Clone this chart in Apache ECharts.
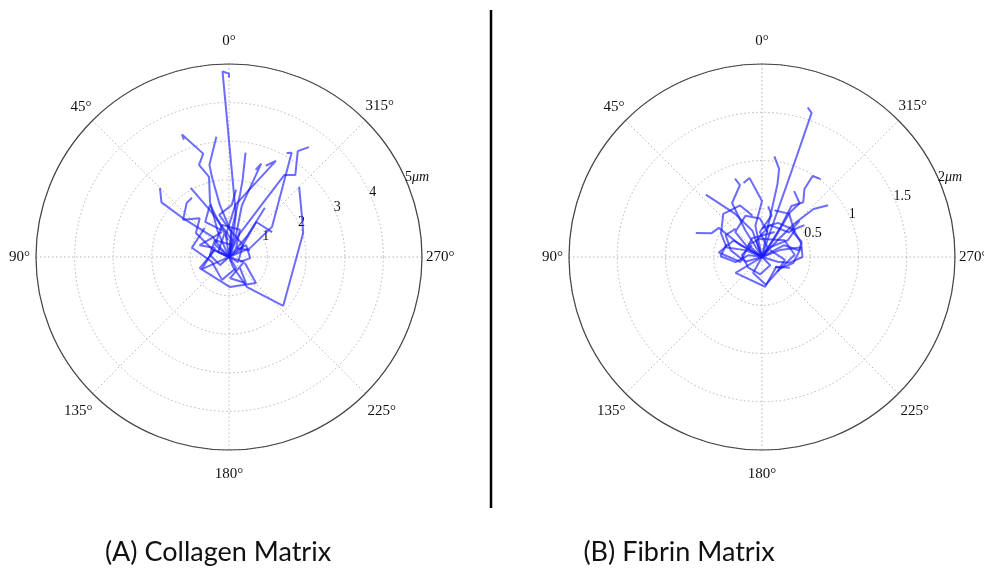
<!DOCTYPE html>
<html>
<head>
<meta charset="utf-8">
<script src="https://cdn.jsdelivr.net/npm/echarts@6/dist/echarts.min.js"></script>
<style>
html,body{margin:0;padding:0;background:#fff;}
#chart{width:984px;height:568px;}
</style>
</head>
<body>
<div id="chart"></div>
<script>
// ---- data: each track is a list of [radius (μm), angle (deg)] ----
const angleTicks = [0, 45, 90, 135, 180, 225, 270, 315];
const collagenRings = [1, 2, 3, 4, 5];
const fibrinRings = [0.5, 1, 1.5, 2];
const radiusUnit = 'μm';
const panelCaptions = ['(A) Collagen Matrix', '(B) Fibrin Matrix'];

const collagenTracks = [
  [[0,0],[0.45,347],[1.13,351],[4.81,2],[4.75,0],[4.65,0]],
  [[0,0],[0.28,202],[0.91,211],[1.89,228],[2.02,288],[2.13,297],[2.57,315]],
  [[0,0],[0.59,293],[1.36,305],[3.15,329],[3.08,331]],
  [[0,0],[0.59,337],[1.60,328],[2.56,326],[2.73,321],[3.27,327],[3.52,324]],
  [[0,0],[0.71,24],[1.51,19],[2.14,14],[2.51,18],[2.76,14],[3.40,21],[3.26,21]],
  [[0,0],[0.65,355],[1.37,10],[2.10,12],[2.44,12],[3.13,6]],
  [[0,0],[0.31,42],[0.67,39],[1.60,50],[2.25,51],[2.53,45]],
  [[0,0],[0.45,66],[1.06,54],[1.26,37],[1.53,51],[1.78,38],[1.81,32]],
  [[0,0],[0.45,350],[1.23,21],[2.05,29]],
  [[0,0],[0.58,8],[1.36,353],[2.77,334],[2.55,338]],
  [[0,0],[0.57,342],[1.37,346],[2.56,341],[2.36,343]],
  [[0,0],[0.71,354],[1.64,350],[2.03,350],[2.74,351]],
  [[0,0],[0.72,319],[1.58,324]],
  [[0,0],[0.34,303],[1.15,322],[1.29,300]],
  [[0,0],[0.41,63],[0.81,111],[0.78,182],[0.97,226],[0.44,249]],
  [[0,0],[0.34,213],[0.62,163],[0.46,106],[0.99,76],[0.98,40]],
  [[0,0],[0.41,252],[0.55,183],[0.81,213],[0.40,225]],
  [[0,0],[0.31,66],[0.66,9],[1.10,34],[1.44,20],[0.44,3]],
  [[0,0],[0.28,311],[0.54,305],[0.55,267],[0.31,246]],
  [[0,0],[0.31,132],[0.50,84],[0.57,40],[0.32,346]],
  [[0,0],[0.48,49],[0.85,12],[0.76,338],[0.30,322],[0.57,288]],
  [[0,0],[0.27,241],[0.48,311],[0.70,358],[1.12,13],[1.35,357],[1.75,354]],
  [[0,0],[0.31,114],[0.77,114],[0.43,57],[0.82,68],[0.67,16]]
];

const fibrinTracks = [
  [[0,0],[0.27,342],[0.88,341],[1.58,341],[1.62,343]],
  [[0,0],[0.33,349],[0.77,348],[0.93,349],[1.05,353]],
  [[0,0],[0.35,328],[0.61,330],[0.71,323],[0.83,328],[0.99,328],[1.01,323]],
  [[0,0],[0.27,317],[0.48,316],[0.73,313],[0.87,308]],
  [[0,0],[0.29,20],[0.53,32],[0.87,42]],
  [[0,0],[0.26,61],[0.54,56],[0.58,65],[0.73,70]],
  [[0,0],[0.33,32],[0.64,29],[0.78,17],[0.86,19]],
  [[0,0],[0.33,12],[0.58,0],[0.83,9],[0.79,14]],
  [[0,0],[0.26,298],[0.39,280],[0.44,291],[0.41,312],[0.55,307]],
  [[0,0],[0.32,121],[0.31,186],[0.18,236],[0.31,249]],
  [[0,0],[0.20,291],[0.42,284],[0.33,259],[0.23,241],[0.17,232]],
  [[0,0],[0.18,106],[0.33,78],[0.44,59],[0.40,43]],
  [[0,0],[0.14,82],[0.28,101],[0.43,89],[0.39,70]],
  [[0,0],[0.23,326],[0.54,328],[0.68,325],[0.76,334]],
  [[0,0],[0.18,19],[0.34,346],[0.38,312],[0.54,314]],
  [[0,0],[0.12,225],[0.18,174],[0.18,128],[0.21,84],[0.16,40]],
  [[0,0],[0.11,326],[0.26,5],[0.44,347],[0.53,353]],
  [[0,0],[0.19,49],[0.19,6],[0.29,307],[0.34,274],[0.22,227]],
  [[0,0],[0.19,68],[0.38,75],[0.49,60],[0.60,42],[0.58,23],[0.44,13]],
  [[0,0],[0.17,253],[0.29,258],[0.42,270],[0.43,289],[0.43,309],[0.53,328],[0.50,345]],
  [[0,0],[0.19,151],[0.29,188],[0.22,225],[0.24,263],[0.11,311]],
  [[0,0],[0.34,60],[0.45,84],[0.23,103],[0.22,28],[0.29,333]],
  [[0,0],[0.13,321],[0.32,303],[0.44,309],[0.39,335],[0.30,0]],
  [[0,0],[0.17,57],[0.38,47],[0.46,22],[0.40,3],[0.26,347]]
];

// ---- chart ----
const SERIF = "'Liberation Serif', 'DejaVu Serif', serif";
// per-label outward offsets (padding) to mimic centred label placement
const anglePad = {
  0: [0, 0, 15, 0], 45: [0, 1, 6, 0], 90: [0, 6, 0, 0], 135: [10, 0, 0, 0],
  180: [17, 0, 0, 0], 225: [10, 0, 0, 2], 270: [0, 0, 0, 4], 315: [0, 0, 7, 0]
};
const angleRich = {};
angleTicks.forEach(t => {
  angleRich['a' + t] = {padding: anglePad[t], fontFamily: SERIF, fontSize: 15, color: '#111'};
});

const panels = [
  {center: [229, 257], radius: 193, rings: collagenRings, tracks: collagenTracks},
  {center: [762, 257], radius: 193, rings: fibrinRings, tracks: fibrinTracks}
];

const polar = [], angleAxis = [], radiusAxis = [], series = [];
panels.forEach((p, k) => {
  const gridIdx = 2 * k, lblIdx = 2 * k + 1;
  const step = p.rings[0], rmax = p.rings[p.rings.length - 1];
  polar.push({center: p.center, radius: p.radius});
  polar.push({center: p.center, radius: p.radius});
  angleAxis.push({
    polarIndex: gridIdx, type: 'value', min: 0, max: 360,
    interval: angleTicks[1] - angleTicks[0],
    startAngle: 90, clockwise: false,
    axisLine: {lineStyle: {color: '#444', width: 1.2}},
    axisTick: {show: false},
    axisLabel: {
      margin: 0, fontFamily: SERIF, fontSize: 15, color: '#111',
      formatter: v => angleTicks.indexOf(v) >= 0 ? '{a' + v + '|' + v + '°}' : '',
      rich: angleRich
    },
    splitLine: {lineStyle: {type: [1.5, 2.5], color: '#b5b5b5', width: 1}}
  });
  angleAxis.push({
    polarIndex: lblIdx, type: 'value', min: 0, max: 360,
    startAngle: 22.5, clockwise: false, show: false
  });
  radiusAxis.push({
    polarIndex: gridIdx, type: 'value', min: 0, max: rmax, interval: step,
    axisLine: {show: false}, axisTick: {show: false}, axisLabel: {show: false},
    splitLine: {lineStyle: {type: [1.5, 2.5], color: '#b5b5b5', width: 1}}
  });
  radiusAxis.push({
    polarIndex: lblIdx, type: 'value', min: 0, max: rmax, interval: step,
    axisLine: {show: false}, axisTick: {show: false}, splitLine: {show: false},
    axisLabel: {
      margin: 6, align: 'left', verticalAlign: 'middle',
      fontFamily: SERIF, fontSize: 14, color: '#111',
      formatter: v => v === 0 ? '' : (v === rmax ? v + '{u|' + radiusUnit + '}' : String(v)),
      rich: {u: {fontFamily: SERIF, fontStyle: 'italic', fontSize: 14, color: '#111'}}
    }
  });
  p.tracks.forEach(tr => {
    series.push({
      type: 'line', coordinateSystem: 'polar', polarIndex: gridIdx,
      data: tr, showSymbol: false, symbol: 'none', smooth: false,
      lineStyle: {color: 'rgba(25,25,255,0.64)', width: 2},
      z: 3, silent: true
    });
  });
});

const chart = echarts.init(document.getElementById('chart'), null, {renderer: 'canvas'});
chart.setOption({
  animation: false,
  backgroundColor: '#ffffff',
  polar, angleAxis, radiusAxis, series,
  graphic: [
    {type: 'line', shape: {x1: 491, y1: 10, x2: 491, y2: 508},
     style: {stroke: '#000', lineWidth: 2.5}},
    {type: 'text', x: 218, y: 552,
     style: {text: panelCaptions[0], font: "27px Lato, 'Open Sans', sans-serif",
             fill: '#111', textAlign: 'center', textVerticalAlign: 'middle'}},
    {type: 'text', x: 679, y: 552,
     style: {text: panelCaptions[1], font: "27px Lato, 'Open Sans', sans-serif",
             fill: '#111', textAlign: 'center', textVerticalAlign: 'middle'}}
  ]
});
</script>
</body>
</html>
